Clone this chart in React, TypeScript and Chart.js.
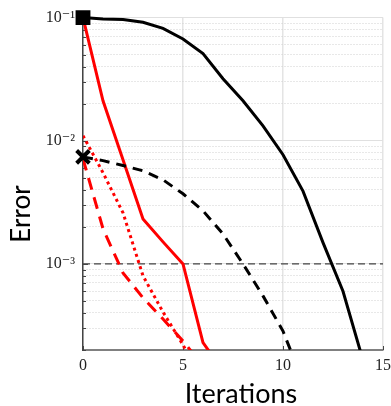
import { useEffect, useRef } from "react";
import { Chart, registerables } from "chart.js";

Chart.register(...registerables);

const iterations = [0, 1, 2, 3, 4, 5, 6, 7, 8, 9, 10, 11, 12, 13, 14];

const blackSolid = [0.1, 0.0976, 0.0964, 0.0916, 0.0818, 0.067, 0.051, 0.0319, 0.0211, 0.0132, 0.0077, 0.0039, 0.00149, 0.0006, 0.000165];
const blackDashed = [0.0074, 0.0069, 0.0063, 0.0057, 0.00482, 0.00371, 0.0027, 0.00175, 0.001, 0.00055, 0.000285, 0.00011];
const redSolid = [0.1, 0.0211, 0.007, 0.00232, 0.00151, 0.001, 0.00023, 0.000135];
const redDotted = [0.011, 0.0055, 0.0026, 0.0008, 0.000407, 0.00022, 0.00011];
const redDashed = [0.00714, 0.00193, 0.000845, 0.00053, 0.000357, 0.000237, 0.000148];

const thresholdX = [0, 15];
const thresholdY = [0.001, 0.001];

const xTickValues = [0, 5, 10, 15];
const xTickLabels = ["0", "5", "10", "15"];
const yMajorValues = [0.001, 0.01, 0.1];
const yTickLabels = ["10⁻³", "10⁻²", "10⁻¹"];
const yTickValues = [
  0.0002, 0.0003, 0.0004, 0.0005, 0.0006, 0.0007, 0.0008, 0.0009,
  0.001, 0.002, 0.003, 0.004, 0.005, 0.006, 0.007, 0.008, 0.009,
  0.01, 0.02, 0.03, 0.04, 0.05, 0.06, 0.07, 0.08, 0.09, 0.1,
];

const xTitle = "Iterations";
const yTitle = "Error";

const toPoints = (xs: number[], ys: number[]) => ys.map((y, i) => ({ x: xs[i], y }));

const majorIndex = (v: number) =>
  yMajorValues.findIndex((m) => Math.abs(Math.log10(v) - Math.log10(m)) < 1e-6);

const SERIF = "'Liberation Serif', 'DejaVu Serif', serif";
const SANS = "Lato, 'DejaVu Sans', sans-serif";

const decorPlugin = {
  id: "decor",
  beforeDatasetsDraw(chart: any) {
    const { ctx, chartArea, scales } = chart;
    ctx.save();
    ctx.strokeStyle = "#444";
    ctx.lineWidth = 1;
    scales.y.ticks.forEach((t: any) => {
      const py = Math.round(scales.y.getPixelForValue(t.value)) + 0.5;
      const len = majorIndex(t.value) >= 0 ? 5 : 3;
      ctx.beginPath();
      ctx.moveTo(chartArea.left, py);
      ctx.lineTo(chartArea.left + len, py);
      ctx.stroke();
    });
    scales.x.ticks.forEach((t: any) => {
      const px = Math.round(scales.x.getPixelForValue(t.value)) + 0.5;
      ctx.beginPath();
      ctx.moveTo(px, chartArea.bottom);
      ctx.lineTo(px, chartArea.bottom - 4);
      ctx.stroke();
    });
    ctx.restore();
  },
  afterDraw(chart: any) {
    const { ctx } = chart;
    ctx.save();
    ctx.fillStyle = "#000";
    ctx.textAlign = "center";
    ctx.textBaseline = "middle";
    ctx.font = `27px ${SANS}`;
    ctx.fillText(xTitle, 241, 394);
    ctx.font = `26px ${SANS}`;
    ctx.translate(22, 214);
    ctx.rotate(-Math.PI / 2);
    ctx.fillText(yTitle, 0, 0);
    ctx.restore();
  },
};

export default function App() {
  const ref = useRef<HTMLCanvasElement>(null);

  useEffect(() => {
    const pointAt0 = (r: number) => (ctx: any) => (ctx.dataIndex === 0 ? r : 0);
    const markerClip = { left: 14, top: 14, right: 0, bottom: 0 };
    const chart = new Chart(ref.current!, {
      type: "line",
      data: {
        datasets: [
          {
            label: "black solid",
            data: toPoints(iterations, blackSolid),
            borderColor: "#000",
            backgroundColor: "#000",
            borderWidth: 3,
            pointStyle: "rect",
            pointRadius: pointAt0(10.5),
            pointBorderWidth: 0,
            tension: 0,
            clip: markerClip,
          },
          {
            label: "black dashed",
            data: toPoints(iterations, blackDashed),
            borderColor: "#000",
            backgroundColor: "#000",
            borderWidth: 3,
            borderDash: [10, 7],
            pointStyle: "crossRot",
            pointRadius: pointAt0(9),
            pointBorderWidth: 4,
            pointBorderColor: "#000",
            tension: 0,
            clip: markerClip,
          },
          {
            label: "red solid",
            data: toPoints(iterations, redSolid),
            borderColor: "#ff0000",
            borderWidth: 3,
            pointRadius: 0,
            tension: 0,
          },
          {
            label: "red dotted",
            data: toPoints(iterations, redDotted),
            borderColor: "#ff0000",
            borderWidth: 3,
            borderDash: [3, 3.5],
            pointRadius: 0,
            tension: 0,
          },
          {
            label: "red dashed",
            data: toPoints(iterations, redDashed),
            borderColor: "#ff0000",
            borderWidth: 3,
            borderDash: [12, 8],
            pointRadius: 0,
            tension: 0,
          },
          {
            label: "threshold",
            data: toPoints(thresholdX, thresholdY),
            borderColor: "#444",
            borderWidth: 1.3,
            borderDash: [7, 4],
            pointRadius: 0,
            tension: 0,
          },
        ],
      },
      options: {
        animation: false,
        responsive: true,
        maintainAspectRatio: false,
        layout: { autoPadding: false, padding: { top: 17, right: 8, left: 0, bottom: 0 } },
        plugins: {
          legend: { display: false },
          tooltip: { enabled: false },
        },
        scales: {
          x: {
            type: "linear",
            min: 0,
            max: 15,
            afterBuildTicks: (s: any) => {
              s.ticks = xTickValues.map((v) => ({ value: v }));
            },
            afterFit: (s: any) => {
              s.height = 56;
            },
            ticks: {
              autoSkip: false,
              maxRotation: 0,
              padding: 0,
              color: "#222",
              font: { family: SERIF, size: 16 },
              callback: (v: any) => {
                const i = xTickValues.indexOf(Number(v));
                return i >= 0 ? xTickLabels[i] : "";
              },
            },
            grid: {
              color: "#e4e4e4",
              lineWidth: 1.5,
              drawTicks: true,
              tickLength: 6,
              tickColor: "rgba(0,0,0,0)",
            },
            border: { display: true, color: "#808080", width: 2 },
          },
          y: {
            type: "logarithmic",
            min: 0.0002,
            max: 0.1,
            afterBuildTicks: (s: any) => {
              s.ticks = yTickValues.map((v) => ({ value: v, major: majorIndex(v) >= 0 }));
            },
            afterFit: (s: any) => {
              s.width = 83;
            },
            ticks: {
              autoSkip: false,
              padding: 8,
              color: "#222",
              font: { family: SERIF, size: 16 },
              callback: (v: any) => {
                const i = majorIndex(Number(v));
                return i >= 0 ? yTickLabels[i] : "";
              },
            },
            grid: {
              drawTicks: false,
              lineWidth: 1,
              color: (ctx: any) =>
                ctx.tick && majorIndex(ctx.tick.value) >= 0 ? "#e0e0e0" : "#d0d0d0",
            },
            border: {
              display: true,
              color: "#444",
              width: 1.5,
              dash: (ctx: any) =>
                ctx.tick && majorIndex(ctx.tick.value) < 0 ? [1, 2] : [],
            },
          },
        },
      },
      plugins: [decorPlugin],
    });
    return () => chart.destroy();
  }, []);

  return (
    <div style={{ position: "fixed", left: 0, top: 0, width: 391, height: 406, background: "#fff" }}>
      <canvas ref={ref} />
    </div>
  );
}
